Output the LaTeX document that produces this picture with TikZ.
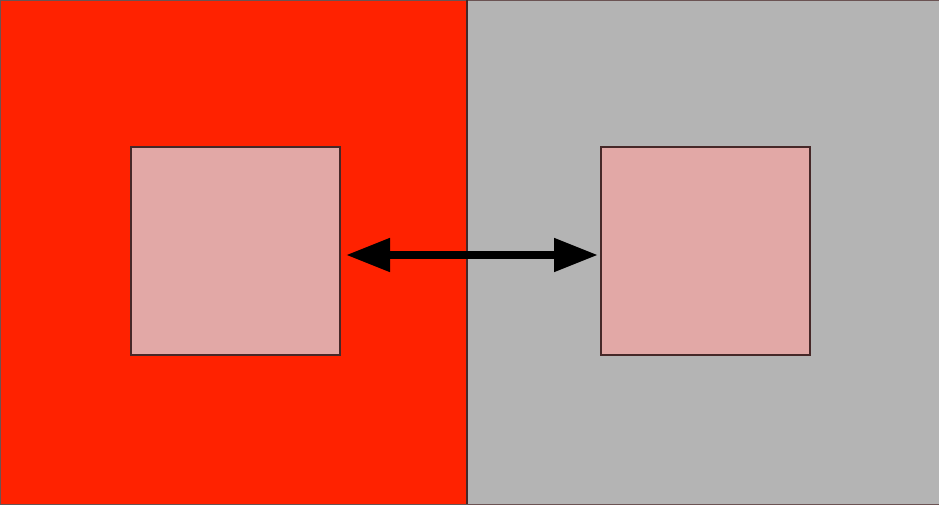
\documentclass[tikz,border=0pt]{standalone}
\usetikzlibrary{arrows.meta}
\definecolor{bgred}{RGB}{255,34,0}
\definecolor{bggray}{RGB}{180,180,180}
\definecolor{sqpink}{RGB}{226,168,166}
\definecolor{edgedark}{RGB}{70,40,40}
\tikzset{
  panel/.style={draw=edgedark!80, line width=1pt, minimum width=#1, minimum height=504pt, inner sep=0pt, outer sep=0pt, anchor=north west},
  sq/.style={draw=edgedark, line width=1.2pt, fill=sqpink, minimum width=209pt, minimum height=208pt, inner sep=0pt, outer sep=0pt},
  dblarrow/.style={line width=8pt, {Triangle[length=44pt,width=32pt]}-{Triangle[length=44pt,width=32pt]}}
}
\begin{document}
\begin{tikzpicture}[x=1pt,y=-1pt]
\useasboundingbox (0,0) rectangle (939,504);
\node[panel=467pt, fill=bgred] (L) at (0,0) {};
\node[panel=472pt, fill=bggray] (R) at (467,0) {};
\draw[edgedark, line width=2pt] (L.north east) -- (L.south east);
\node[sq] (ls) at (235.5,251) {};
\node[sq] (rs) at (705.5,251) {};
\draw[dblarrow] ([xshift=6pt,yshift=-4pt]ls.east) -- ([xshift=-3pt,yshift=-4pt]rs.west);
\end{tikzpicture}
\end{document}
